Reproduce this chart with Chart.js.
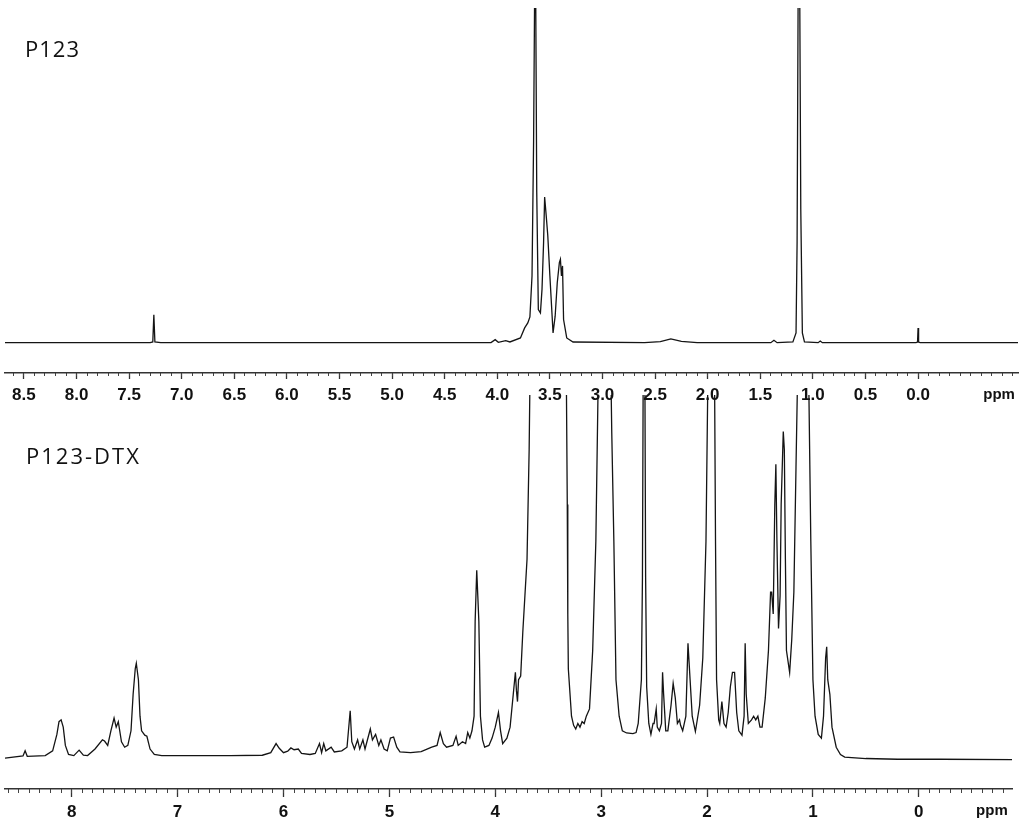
<!DOCTYPE html>
<html>
<head>
<meta charset="utf-8">
<script src="https://cdn.jsdelivr.net/npm/chart.js@4/dist/chart.umd.min.js"></script>
<style>
  html, body { margin: 0; padding: 0; background: #fff; }
  body { width: 1024px; height: 827px; position: relative; overflow: hidden; }
  canvas { position: absolute; left: 0; }
  #top-chart { top: 0; }
  #bottom-chart { top: 380px; }
  .label { position: absolute; font-family: "Open Sans", sans-serif; font-size: 22px; line-height: 22px; color: #111; }
</style>
</head>
<body>
<canvas id="top-chart" width="1024" height="412"></canvas>
<canvas id="bottom-chart" width="1024" height="447"></canvas>
<div class="label" style="left:25px; top:37px; letter-spacing:1px;">P123</div>
<div class="label" style="left:26px; top:444px; letter-spacing:2px;">P123-DTX</div>
<script>
// P123 spectrum (chemical shift in ppm, relative intensity; 100 = top of panel)
const p123Shift = [8.68, 7.30, 7.275, 7.265, 7.255, 7.20, 4.06, 4.02, 3.99, 3.92, 3.88, 3.78, 3.74, 3.71, 3.69,
  3.67, 3.655, 3.645, 3.635, 3.625, 3.61, 3.59, 3.575, 3.56, 3.55, 3.535, 3.52, 3.50, 3.47, 3.45, 3.43, 3.41,
  3.40, 3.39, 3.38, 3.37, 3.34, 3.28, 2.60, 2.45, 2.35, 2.25, 2.10, 1.40, 1.37, 1.34, 1.19, 1.16, 1.15, 1.14,
  1.125, 1.115, 1.10, 1.08, 0.95, 0.93, 0.91, 0.02, 0.005, 0.0, -0.005, -0.02, -0.95];
const p123Intensity = [0.1, 0.1, 0.3, 8.4, 0.3, 0.1, 0.1, 1.0, 0.2, 0.7, 0.3, 1.5, 4.5, 6.0, 7.8,
  20, 60, 105, 105, 45, 10, 9, 16, 30, 43.6, 38, 32, 20, 3, 8, 18, 24,
  25, 20, 23, 7, 1.5, 0.3, 0.1, 0.4, 1.2, 0.5, 0.1, 0.1, 0.8, 0.1, 0.3, 3, 30, 105,
  105, 40, 3, 0.3, 0.1, 0.6, 0.1, 0.1, 0.3, 4.5, 0.3, 0.1, 0.1];

// P123-DTX spectrum
const dtxShift = [8.63, 8.46, 8.44, 8.42, 8.25, 8.18, 8.14, 8.12, 8.10, 8.08, 8.06, 8.03, 7.98, 7.93, 7.89,
  7.85, 7.78, 7.71, 7.69, 7.66, 7.63, 7.60, 7.58, 7.56, 7.53, 7.50, 7.47, 7.44, 7.42, 7.40, 7.39, 7.37, 7.355,
  7.34, 7.31, 7.29, 7.26, 7.22, 7.15, 6.50, 6.20, 6.12, 6.07, 6.04, 6.00, 5.96, 5.93, 5.90, 5.86, 5.83, 5.75,
  5.70, 5.66, 5.64, 5.62, 5.60, 5.55, 5.52, 5.45, 5.40, 5.37, 5.355, 5.33, 5.30, 5.28, 5.25, 5.23, 5.18, 5.16,
  5.13, 5.10, 5.08, 5.05, 5.02, 4.99, 4.96, 4.93, 4.90, 4.80, 4.70, 4.60, 4.55, 4.52, 4.49, 4.46, 4.40, 4.37,
  4.35, 4.31, 4.28, 4.26, 4.24, 4.22, 4.20, 4.19, 4.175, 4.165, 4.155, 4.14, 4.12, 4.10, 4.06, 4.03, 4.00,
  3.97, 3.95, 3.93, 3.89, 3.86, 3.83, 3.81, 3.80, 3.79, 3.78, 3.76, 3.74, 3.72, 3.70, 3.68, 3.67, 3.50, 3.33,
  3.32, 3.315, 3.31, 3.28, 3.26, 3.24, 3.22, 3.20, 3.18, 3.16, 3.14, 3.11, 3.08, 3.05, 3.03, 3.02, 2.96, 2.91,
  2.90, 2.88, 2.86, 2.83, 2.80, 2.76, 2.70, 2.67, 2.65, 2.62, 2.61, 2.60, 2.59, 2.58, 2.57, 2.55, 2.53, 2.51,
  2.50, 2.48, 2.47, 2.45, 2.43, 2.42, 2.41, 2.39, 2.37, 2.34, 2.32, 2.30, 2.28, 2.26, 2.25, 2.23, 2.20, 2.18,
  2.17, 2.16, 2.14, 2.11, 2.07, 2.04, 2.01, 1.99, 1.98, 1.94, 1.93, 1.92, 1.91, 1.89, 1.88, 1.86, 1.84, 1.82,
  1.80, 1.78, 1.76, 1.74, 1.72, 1.70, 1.67, 1.65, 1.64, 1.63, 1.61, 1.58, 1.56, 1.54, 1.52, 1.50, 1.48, 1.45,
  1.42, 1.40, 1.39, 1.375, 1.36, 1.35, 1.34, 1.325, 1.31, 1.30, 1.28, 1.27, 1.26, 1.25, 1.22, 1.20, 1.18, 1.16,
  1.145, 1.10, 1.04, 1.02, 1.00, 0.98, 0.95, 0.92, 0.90, 0.88, 0.87, 0.86, 0.84, 0.82, 0.78, 0.74, 0.70, 0.50,
  0.20, -0.20, -0.88];
const dtxIntensity = [0.5, 1.1, 2.5, 1.0, 1.2, 2.5, 7, 10.5, 11, 9, 4, 1.5, 1.2, 2.7, 1.3,
  1.2, 3, 5.5, 5.2, 4, 8, 11.5, 9, 10.5, 5, 3.5, 4, 8, 18, 25, 26.5, 22, 12,
  8, 6.8, 6.5, 3, 1.5, 1.2, 1.2, 1.3, 2, 4.5, 3.2, 2, 2.4, 3.3, 2.8, 3.0, 1.8, 1.5,
  1.8, 4.5, 2, 4.5, 2.5, 3.5, 2.2, 2.5, 3.5, 13.5, 5, 3, 5.5, 3, 5.5, 3, 8.5, 5.5,
  7, 4, 5.5, 3, 2.5, 6, 6.3, 3.5, 2.2, 2, 2.3, 3.5, 4, 7.5, 4.5, 3.5, 4, 6.5,
  4, 5, 4.5, 7.5, 6, 8, 12, 38, 52, 45, 38, 12, 5.5, 3.5, 4, 6, 9,
  13, 8, 4.5, 6, 9, 18, 24, 19, 16, 22, 23, 35, 45, 55, 85, 110, 150, 110,
  70, 40, 25, 12, 9.5, 8.5, 10, 9, 10.5, 10, 12, 14, 30, 60, 100, 115, 140, 110,
  90, 60, 22, 12, 8, 7.4, 7.2, 7.5, 10, 22, 50, 130, 130, 50, 20, 10, 7, 10,
  10, 14, 9, 8, 10, 24, 18, 8, 8, 15, 21, 17, 10, 11, 9.5, 8, 12, 32,
  27, 22, 12, 7.8, 15, 28, 60, 110, 130, 130, 110, 60, 22, 11, 10, 16, 10, 9,
  13, 20, 24, 24, 13, 8, 6.8, 12, 32, 18, 10, 11, 12, 11, 12, 9, 9, 17,
  30, 46, 46, 40, 70, 81, 60, 36, 45, 70, 90, 85, 55, 30, 24, 33, 46, 80,
  105, 130, 105, 60, 22, 12, 7, 6, 12, 28, 31, 22, 18, 9, 3.5, 1.5, 0.8, 0.4,
  0.2, 0.2, 0.1];

// axis tick labels
const p123TickValues = [8.5, 8.0, 7.5, 7.0, 6.5, 6.0, 5.5, 5.0, 4.5, 4.0, 3.5, 3.0, 2.5, 2.0, 1.5, 1.0, 0.5, 0.0];
const p123TickLabels = ["8.5", "8.0", "7.5", "7.0", "6.5", "6.0", "5.5", "5.0", "4.5", "4.0", "3.5", "3.0", "2.5", "2.0", "1.5", "1.0", "0.5", "0.0"];
const dtxTickValues = [8, 7, 6, 5, 4, 3, 2, 1, 0];
const dtxTickLabels = ["8", "7", "6", "5", "4", "3", "2", "1", "0"];
const unitLabel = "ppm";

const tickFont = { family: '"Liberation Sans", Arial, sans-serif', weight: 'bold', size: 17, lineHeight: 1 };
const unitFont = { family: '"Liberation Sans", Arial, sans-serif', weight: 'bold', size: 15, lineHeight: 1 };

function spectrumChart(canvasId, shifts, values, opts) {
  const points = shifts.map((s, i) => ({ x: s, y: values[i] }));
  const isUnit = v => v === opts.unitAt;
  return new Chart(document.getElementById(canvasId), {
    type: "line",
    data: {
      datasets: [{
        data: points,
        borderColor: "#141414",
        borderWidth: 1.3,
        pointRadius: 0,
        tension: 0,
        fill: false,
      }],
    },
    options: {
      responsive: false,
      animation: false,
      events: [],
      layout: { padding: { left: 5, right: opts.rightPad, top: opts.topPad, bottom: 0 } },
      plugins: { legend: { display: false }, tooltip: { enabled: false } },
      scales: {
        x: {
          type: "linear",
          reverse: true,
          min: opts.min,
          max: opts.max,
          afterBuildTicks: scale => {
            scale.ticks = opts.tickValues.map(v => ({ value: v })).concat([{ value: opts.unitAt }]);
          },
          ticks: {
            autoSkip: false,
            maxRotation: 0,
            padding: opts.labelPad,
            color: "#111",
            font: ctx => (ctx.tick && isUnit(ctx.tick.value) ? unitFont : tickFont),
            callback: v => (isUnit(v) ? unitLabel : opts.tickLabels[opts.tickValues.indexOf(v)]),
          },
          grid: {
            drawOnChartArea: false,
            tickLength: opts.majorTick,
            tickWidth: 1.3,
            tickColor: ctx => (ctx.tick && isUnit(ctx.tick.value) ? "rgba(0,0,0,0)" : "#333"),
          },
          border: { color: "#333", width: 1.5 },
        },
        minor: {
          type: "linear",
          axis: "x",
          reverse: true,
          min: opts.min,
          max: opts.max,
          position: { y: opts.yMin },
          ticks: { display: false, stepSize: 0.1, includeBounds: false },
          grid: { drawOnChartArea: false, tickLength: opts.minorTick, tickWidth: 1, tickColor: "#444" },
          border: { display: false },
        },
        y: { display: false, min: opts.yMin, max: 100 },
      },
    },
  });
}

spectrumChart("top-chart", p123Shift, p123Intensity, {
  min: -0.95, max: 8.68, yMin: -8.96, topPad: 8, rightPad: 6, labelPad: 8,
  majorTick: 6, minorTick: 3, unitAt: -0.77,
  tickValues: p123TickValues, tickLabels: p123TickLabels,
});

spectrumChart("bottom-chart", dtxShift, dtxIntensity, {
  min: -0.88, max: 8.63, yMin: -7.95, topPad: 15, rightPad: 12, labelPad: 6.5,
  majorTick: 8, minorTick: 4, unitAt: -0.69,
  tickValues: dtxTickValues, tickLabels: dtxTickLabels,
});
</script>
</body>
</html>
